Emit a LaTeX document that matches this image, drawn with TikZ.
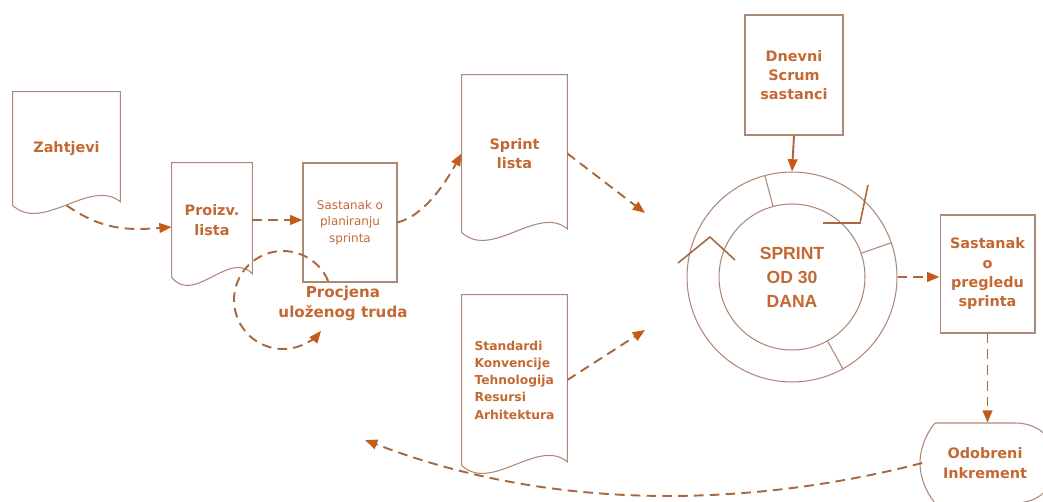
\documentclass[tikz,border=0pt]{standalone}
\usepackage{fontspec}
\setmainfont{DejaVu Sans}
\newfontfamily\arialfont{Liberation Sans}
\usepackage{tikz}
\usepackage{xcolor}
\usetikzlibrary{positioning,shapes,arrows.meta,calc}

\definecolor{boxline}{RGB}{172,136,118}
\definecolor{txtor}{RGB}{196,104,50}
\definecolor{dashbr}{RGB}{170,104,62}
\definecolor{tipor}{RGB}{196,92,24}

\tikzset{
  lbl/.style={text=txtor,font=\bfseries\fontsize{8.2}{11}\selectfont,align=center,inner sep=0pt},
  docnode/.style={lbl,minimum width=#1},
  boxnode/.style={lbl,draw=boxline,line width=0.6pt},
  flow/.style={draw=dashbr,line width=1.1pt,dash pattern=on 5.5pt off 3.5pt,
    -{Triangle[length=7pt,width=5.5pt,color=tipor,fill=tipor]}},
  solidflow/.style={flow,solid},
  ring/.style={draw=boxline,line width=0.6pt},
  hook/.style={draw=dashbr,line width=0.9pt}
}

% document outline with a wavy bottom edge
\newcommand{\docoutline}[1]{%
  \draw[boxline,line width=0.6pt] (#1.south west) -- (#1.north west) -- (#1.north east)
    -- ([yshift=2pt]#1.south east)
    .. controls ($(#1.south west)!0.72!(#1.south east)+(0,16pt)$)
    and ($(#1.south west)!0.28!(#1.south east)+(0,-16pt)$) .. (#1.south west);}

\begin{document}
\begin{tikzpicture}[x=0.02cm,y=-0.02cm]
  \useasboundingbox (0,0) rectangle (1043,502);
  \clip (0,0) rectangle (1043,502);

  % documents
  \node[docnode=2.14cm,minimum height=2.26cm] (zah) at (66.5,148.5) {Zahtjevi};
  \node[docnode=1.6cm,minimum height=2.28cm] (proiz) at (212,220) {Proizv.\\lista};
  \node[docnode=2.1cm,minimum height=3.14cm] (sl) at (514.5,153.5) {Sprint\\lista};
  \node[docnode=2.1cm,minimum height=3.4cm,align=left,
        font=\bfseries\fontsize{7}{9.8}\selectfont] (std) at (514.5,380)
        {Standardi\\Konvencije\\Tehnologija\\Resursi\\Arhitektura};
  \docoutline{zah}
  \docoutline{proiz}
  \docoutline{sl}
  \docoutline{std}

  % boxes
  \node[boxnode,minimum width=1.88cm,minimum height=2.38cm,
        font=\fontsize{6.8}{9.4}\selectfont] (plan) at (350,222.5)
        {Sastanak o\\planiranju\\sprinta};
  \node[boxnode,minimum width=1.96cm,minimum height=2.4cm] (dnev) at (794,75)
        {Dnevni\\Scrum\\sastanci};
  \node[boxnode,minimum width=1.9cm,minimum height=2.36cm] (pre) at (987.5,274)
        {Sastanak\\o\\pregledu\\sprinta};
  \node[lbl,minimum width=2.5cm,minimum height=1.6cm] (inc) at (985,463)
        {Odobreni\\Inkrement};
  \draw[boxline,line width=0.6pt] (935,423) -- (1015,423)
    .. controls (1070,423) and (1070,503) .. (1015,503) -- (935,503)
    .. controls (925,491) and (920,476) .. (920,463)
    .. controls (920,450) and (925,435) .. (935,423);

  % sprint cycle
  \node[ring,circle,minimum size=4.2cm] (spr) at (792,277) {};
  \node[ring,circle,minimum size=2.92cm,text=txtor,
        font=\arialfont\bfseries\fontsize{10}{13.6}\selectfont,align=center] (sprin) at (792,277)
        {SPRINT\\OD 30\\DANA};
  \foreach \a in {105,19,-61}
    \draw[ring] (sprin.\a) -- (spr.\a);
  \draw[hook] (678,263) -- (710,237) -- (735,260);
  \draw[hook] (823,223) -- (860,223) -- (868,185);

  \node[lbl,font=\bfseries\fontsize{8.6}{11.5}\selectfont] (proc) at (343,303)
        {Procjena\\uloženog truda};

  \coordinate (in1) at (645,213);
  \coordinate (in2) at (645,330);
  \coordinate (back) at (365,440);
  \coordinate (est) at (283,300);

  % connectors
  \draw[flow] (zah.south) .. controls +(20pt,-14pt) and +(-25pt,-2pt) .. ([yshift=-4pt]proiz.west);
  \draw[flow] (proiz.east) -- (proiz.east -| plan.west);
  \draw[flow] (plan.east) .. controls +(15pt,4pt) and +(-10pt,-18pt) .. (sl.west);
  \draw[flow] (sl.east) -- (in1);
  \draw[flow] (std.east) -- (in2);
  \draw[solidflow] (dnev.south) -- (spr.north);
  \draw[flow] (spr.east) -- (spr.east -| pre.west);
  \draw[flow] (pre.south) -- (pre.south |- inc.north);
  \draw[flow] (inc.west) .. controls (760,505) and (560,515) .. (back);
  \draw[flow] ([shift={(23:0.98cm)}]est) arc[start angle=23,end angle=321,radius=0.98cm];
\end{tikzpicture}
\end{document}
